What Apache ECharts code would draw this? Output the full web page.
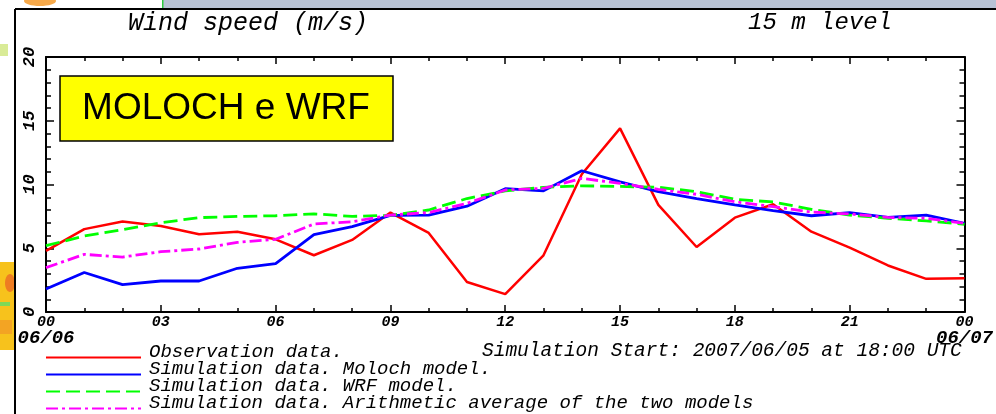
<!DOCTYPE html>
<html><head><meta charset="utf-8">
<script src="https://cdn.jsdelivr.net/npm/echarts@6/dist/echarts.min.js"></script>
<style>html,body{margin:0;padding:0;background:#fff;overflow:hidden}#c{width:996px;height:414px}</style>
</head><body><div id="c"></div>
<script>
// ---- data (hours after 06/06 00 UTC) ----
const hours = [0,1,2,3,4,5,6,7,8,9,10,11,12,13,14,15,16,17,18,19,20,21,22,23,24];
const observation = [4.8,6.5,7.1,6.75,6.1,6.3,5.7,4.45,5.65,7.8,6.2,2.35,1.4,4.45,10.8,14.4,8.4,5.1,7.4,8.45,6.3,5.05,3.65,2.6,2.65];
const moloch = [1.8,3.1,2.15,2.43,2.43,3.43,3.8,6.07,6.7,7.58,7.6,8.3,9.67,9.5,11.08,10.2,9.44,8.9,8.4,7.95,7.55,7.8,7.42,7.6,6.95];
const wrf = [5.2,5.96,6.46,7.0,7.4,7.5,7.55,7.7,7.5,7.58,8.0,8.9,9.5,9.78,9.9,9.85,9.78,9.44,8.84,8.63,8.05,7.6,7.35,7.14,6.88];
const average = [3.48,4.52,4.31,4.73,4.94,5.46,5.7,6.9,7.08,7.6,7.8,8.52,9.57,9.7,10.48,10.09,9.62,9.23,8.65,8.26,7.84,7.69,7.42,7.35,6.95];
const seriesNames = ['Observation data.','Simulation data. Moloch model.','Simulation data. WRF model.','Simulation data. Arithmetic average of the two models'];
const xTickHours = [0,3,6,9,12,15,18,21,24];
const xTickLabels = ['00','03','06','09','12','15','18','21','00'];
const xDateLabels = {0:'06/06', 24:'06/07'};
const yTickLabels = ['0','5','10','15','20'];

const pair = arr => hours.map((h,i)=>[h,arr[i]]);
const MONO = 'Liberation Mono';

const chart = echarts.init(document.getElementById('c'), null, {renderer:'canvas'});

const axisLineStyle = {color:'#000', width:2};
const xAxisBase = {
  type:'value', min:0, max:24, interval:3,
  axisLine:{show:true, onZero:false, lineStyle:axisLineStyle},
  axisTick:{show:true, inside:true, length:7, lineStyle:{color:'#000', width:1.5}},
  minorTick:{show:true, splitNumber:3, length:4, lineStyle:{color:'#000', width:1.5}},
  splitLine:{show:false}, minorSplitLine:{show:false}
};
const yAxisBase = {
  type:'value', min:0, max:20, interval:5,
  axisLine:{show:true, onZero:false, lineStyle:axisLineStyle},
  axisTick:{show:true, inside:true, length:8, lineStyle:{color:'#000', width:1.5}},
  minorTick:{show:true, splitNumber:5, length:5, lineStyle:{color:'#000', width:1.5}},
  splitLine:{show:false}, minorSplitLine:{show:false}
};

chart.setOption({
  animation:false,
  backgroundColor:'#fff',
  grid:{left:46, right:27, top:57, bottom:102, containLabel:false},
  xAxis:[
    Object.assign({}, xAxisBase, {
      position:'bottom',
      axisLabel:{
        show:true, margin:3, color:'#000',
        formatter:function(v){
          const i = xTickHours.indexOf(v);
          if (i < 0) return '';
          const d = xDateLabels[v];
          return d ? '{a|'+xTickLabels[i]+'}\n{b|'+d+'}' : '{a|'+xTickLabels[i]+'}';
        },
        rich:{
          a:{fontFamily:MONO, fontStyle:'italic', fontWeight:'bold', fontSize:15, color:'#000', lineHeight:15},
          b:{fontFamily:MONO, fontStyle:'italic', fontWeight:'bold', fontSize:19, color:'#000', lineHeight:16}
        }
      }
    }),
    Object.assign({}, xAxisBase, {position:'top', axisLabel:{show:false}})
  ],
  yAxis:[
    Object.assign({}, yAxisBase, {
      position:'left',
      axisLabel:{
        show:true, rotate:90, margin:8, color:'#000',
        fontFamily:MONO, fontStyle:'italic', fontWeight:'bold', fontSize:17,
        formatter:function(v){ const i = v/5; return yTickLabels[i] !== undefined ? yTickLabels[i] : ''; }
      }
    }),
    Object.assign({}, yAxisBase, {position:'right', axisLabel:{show:false}})
  ],
  legend:{
    orient:'vertical', left:45, top:342, height:300, width:600, padding:0,
    itemWidth:95, itemHeight:14, itemGap:-10.5,
    itemStyle:{opacity:0},
    data:seriesNames,
    formatter:function(name){ return '{t|'+name+'}\n{s|}'; },
    textStyle:{
      rich:{
        t:{fontFamily:MONO, fontStyle:'italic', fontSize:19, color:'#000', lineHeight:14, padding:[0,0,0,3]},
        s:{fontSize:10, lineHeight:12}
      }
    }
  },
  series:[
    {name:seriesNames[0], type:'line', data:pair(observation), symbol:'none', lineStyle:{color:'#ff0000', width:2.5}, itemStyle:{color:'#ff0000'}, z:3},
    {name:seriesNames[1], type:'line', data:pair(moloch), symbol:'none', lineStyle:{color:'#0000ff', width:2.8}, itemStyle:{color:'#0000ff'}, z:4},
    {name:seriesNames[2], type:'line', data:pair(wrf), symbol:'none', lineStyle:{color:'#00ff00', width:2.8, type:[14,6]}, itemStyle:{color:'#00ff00'}, z:5},
    {name:seriesNames[3], type:'line', data:pair(average), symbol:'none', lineStyle:{color:'#ff00ff', width:2.8, type:[12,4,3,4]}, itemStyle:{color:'#ff00ff'}, z:6}
  ],
  graphic:[
    // slide fragments around the chart
    {type:'rect', shape:{x:163, y:0, width:833, height:9}, style:{fill:'#b8c2d5'}, z:0},
    {type:'rect', shape:{x:162, y:0, width:1.5, height:9}, style:{fill:'#2ecc40'}, z:0},
    {type:'ellipse', shape:{cx:40, cy:1, rx:16, ry:5}, style:{fill:'#f59a2a', opacity:0.85}, z:0},
    {type:'rect', shape:{x:0, y:262, width:15, height:88}, style:{fill:'#f7c21c'}, z:0},
    {type:'ellipse', shape:{cx:10, cy:283, rx:5, ry:9}, style:{fill:'#ee7d22'}, z:0},
    {type:'rect', shape:{x:0, y:302, width:10, height:4}, style:{fill:'#7ed957'}, z:0},
    {type:'rect', shape:{x:0, y:320, width:12, height:14}, style:{fill:'#f3a423'}, z:0},
    {type:'rect', shape:{x:0, y:44, width:8, height:12}, style:{fill:'#c9e26b', opacity:0.7}, z:0},
    // outer frame
    {type:'line', shape:{x1:15, y1:9, x2:996, y2:9}, style:{stroke:'#000', lineWidth:2}, z:1},
    {type:'line', shape:{x1:15, y1:9, x2:15, y2:414}, style:{stroke:'#000', lineWidth:2}, z:1},
    // titles
    {type:'text', left:128, top:11, style:{text:'Wind speed (m/s)', font:'italic 25px "Liberation Mono"', fill:'#000'}, z:10},
    {type:'text', left:748, top:11, style:{text:'15 m level', font:'italic 24px "Liberation Mono"', fill:'#000'}, z:10},
    {type:'text', left:482, top:341, style:{text:'Simulation Start: 2007/06/05 at 18:00 UTC', font:'italic 19.5px "Liberation Mono"', fill:'#000'}, z:10},
    // label box
    {type:'rect', shape:{x:60, y:76, width:333, height:65}, style:{fill:'#ffff00', stroke:'#000', lineWidth:1.5}, z:20},
    {type:'text', x:226, y:109, style:{text:'MOLOCH e WRF', font:'37px "Liberation Sans"', fill:'#000', textAlign:'center', textVerticalAlign:'middle'}, z:21}
  ]
});
</script>
</body></html>
